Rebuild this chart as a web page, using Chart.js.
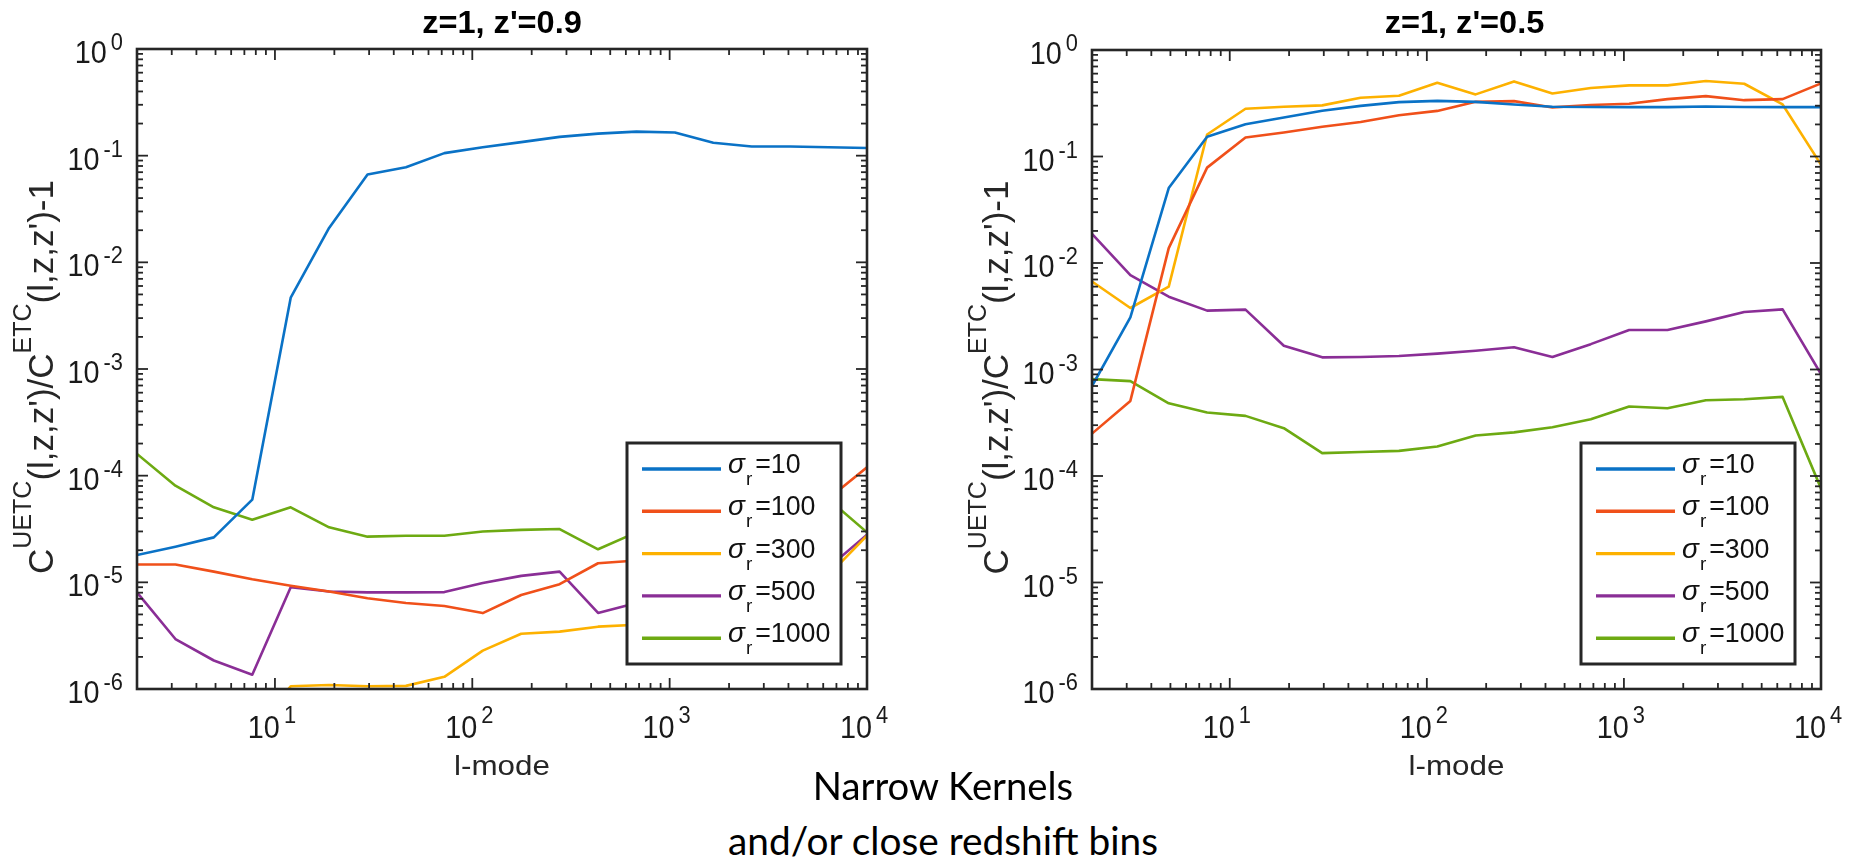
<!DOCTYPE html>
<html>
<head>
<meta charset="utf-8">
<title>UETC / ETC ratio</title>
<script src="https://cdn.jsdelivr.net/npm/chart.js@4.4.1/dist/chart.umd.min.js"></script>
<style>
  html, body { margin: 0; padding: 0; background: #fff; }
  #page { position: relative; width: 1865px; height: 864px; overflow: hidden; background: #fff; }
  #page canvas { position: absolute; top: 0; }
  #cL { left: 0; }
  #cR { left: 935px; }
  .cap {
    position: absolute; left: 943px; white-space: nowrap;
    font-family: Lato, "Open Sans", sans-serif; font-size: 39px; line-height: 1;
    color: #000; transform-origin: 50% 50%;
  }
  #cap1 { top: 766px; }
  #cap2 { top: 821px; }
</style>
</head>
<body>
<div id="page">
  <canvas id="cL" width="935" height="800"></canvas>
  <canvas id="cR" width="930" height="800"></canvas>
  <div class="cap" id="cap1">Narrow Kernels</div>
  <div class="cap" id="cap2">and/or close redshift bins</div>
</div>
<script>
// multipole values (l-mode), shared by both panels
const ells = [2, 3.131, 4.902, 7.675, 12.02, 18.81, 29.45, 46.11, 72.18, 113.0,
              176.9, 277.0, 433.7, 678.9, 1063, 1664, 2605, 4079, 6386, 10000];

// kernel widths
const sigmas = [10, 100, 300, 500, 1000];
const seriesColors = ['#0A72C6', '#F0501A', '#FDB100', '#8A2E96', '#6DAA12'];

// panel titles and axis decade exponents
const panelTitles = ["z=1, z'=0.9", "z=1, z'=0.5"];
const xTickExps = [1, 2, 3, 4];
const yTickExps = [-6, -5, -4, -3, -2, -1, 0];

// z=1, z'=0.9
const zp09_s10   = [1.8e-5, 2.16e-5, 2.64e-5, 5.96e-5, 4.66e-3, 0.0210, 0.0666, 0.078, 0.1057, 0.120,
                    0.134, 0.150, 0.161, 0.168, 0.165, 0.132, 0.122, 0.122, 0.120, 0.118];
const zp09_s100  = [1.47e-5, 1.47e-5, 1.26e-5, 1.07e-5, 9.3e-6, 8.2e-6, 7.1e-6, 6.4e-6, 6.0e-6, 5.15e-6,
                    7.6e-6, 9.6e-6, 1.51e-5, 1.6e-5, 1.8e-5, 2.2e-5, 2.9e-5, 4.0e-5, 6.1e-5, 1.2e-4];
const zp09_s300  = [3e-7, 3e-7, 3.5e-7, 4e-7, 1.06e-6, 1.09e-6, 1.06e-6, 1.07e-6, 1.3e-6, 2.29e-6,
                    3.3e-6, 3.45e-6, 3.84e-6, 4.0e-6, 4.6e-6, 5.5e-6, 7e-6, 9e-6, 1.17e-5, 2.74e-5];
const zp09_s500  = [8.05e-6, 2.94e-6, 1.85e-6, 1.36e-6, 8.98e-6, 8.2e-6, 8.05e-6, 8.05e-6, 8.1e-6, 9.85e-6,
                    1.15e-5, 1.26e-5, 5.16e-6, 6.4e-6, 7.5e-6, 8.5e-6, 1.0e-5, 1.15e-5, 1.38e-5, 2.8e-5];
const zp09_s1000 = [1.6e-4, 8.05e-5, 5.05e-5, 3.87e-5, 5.05e-5, 3.28e-5, 2.68e-5, 2.73e-5, 2.73e-5, 3.0e-5,
                    3.1e-5, 3.16e-5, 2.04e-5, 2.94e-5, 3.4e-5, 3.9e-5, 4.5e-5, 5.2e-5, 6.0e-5, 2.94e-5];

// z=1, z'=0.5
const zp05_s10   = [7.0e-4, 3.09e-3, 0.0506, 0.153, 0.201, 0.232, 0.269, 0.299, 0.324, 0.333,
                    0.326, 0.308, 0.293, 0.292, 0.291, 0.291, 0.295, 0.292, 0.291, 0.291];
const zp05_s100  = [2.5e-4, 5.07e-4, 0.0138, 0.0786, 0.151, 0.168, 0.190, 0.211, 0.244, 0.268,
                    0.326, 0.331, 0.289, 0.304, 0.313, 0.346, 0.369, 0.338, 0.346, 0.486];
const zp05_s300  = [6.7e-3, 3.78e-3, 6.0e-3, 0.161, 0.281, 0.293, 0.302, 0.356, 0.372, 0.493,
                    0.383, 0.507, 0.391, 0.439, 0.465, 0.465, 0.511, 0.482, 0.308, 0.0839];
const zp05_s500  = [0.0188, 7.7e-3, 4.83e-3, 3.57e-3, 3.65e-3, 1.67e-3, 1.30e-3, 1.31e-3, 1.34e-3, 1.41e-3,
                    1.50e-3, 1.62e-3, 1.31e-3, 1.73e-3, 2.35e-3, 2.35e-3, 2.83e-3, 3.47e-3, 3.67e-3, 9.04e-4];
const zp05_s1000 = [8.12e-4, 7.77e-4, 4.82e-4, 3.94e-4, 3.67e-4, 2.81e-4, 1.64e-4, 1.68e-4, 1.72e-4, 1.89e-4,
                    2.4e-4, 2.57e-4, 2.87e-4, 3.41e-4, 4.49e-4, 4.33e-4, 5.15e-4, 5.26e-4, 5.53e-4, 7.65e-5];

const FRAME = '#262626';
const SANS = '"Liberation Sans", Arial, Helvetica, sans-serif';

function seg(ctx, x1, y1, x2, y2) {
  ctx.beginPath(); ctx.moveTo(x1, y1); ctx.lineTo(x2, y2); ctx.stroke();
}

// "10" with a raised exponent; align 'center' or 'right' at x
function drawPow(ctx, x, yBase, expBase, e, align) {
  const mainF = '32px ' + SANS, expF = '23px ' + SANS;
  const sMain = 0.9, sExp = 0.95, gap = 4;
  ctx.font = mainF; const w1 = ctx.measureText('10').width * sMain;
  ctx.font = expF;  const w2 = ctx.measureText(String(e)).width * sExp;
  const total = w1 + gap + w2;
  const x0 = align === 'right' ? x - total : x - total / 2;
  ctx.save();
  ctx.textAlign = 'left'; ctx.textBaseline = 'alphabetic';
  ctx.save(); ctx.translate(x0, 0); ctx.scale(sMain, 1);
  ctx.font = mainF; ctx.fillText('10', 0, yBase);
  ctx.restore();
  ctx.save(); ctx.translate(x0 + w1 + gap, 0); ctx.scale(sExp, 1);
  ctx.font = expF; ctx.fillText(String(e), 0, expBase);
  ctx.restore();
  ctx.restore();
}

const figurePlugin = {
  id: 'mfig',
  afterDatasetsDraw(chart, args, opts) {
    const { ctx, chartArea: a, scales: { x, y } } = chart;
    ctx.save();

    // legend box, lower right inside the axes
    const bw = 214, bh = 221;
    const bx = a.right - 26 - bw, by = a.bottom - 25 - bh;
    ctx.fillStyle = '#fff';
    ctx.fillRect(bx, by, bw, bh);
    ctx.lineWidth = 3; ctx.strokeStyle = FRAME;
    ctx.strokeRect(bx, by, bw, bh);
    chart.data.datasets.forEach((ds, i) => {
      const ly = by + 26 + i * 42.3;
      ctx.strokeStyle = ds.borderColor; ctx.lineWidth = 3.4; ctx.lineCap = 'butt';
      seg(ctx, bx + 15, ly, bx + 94, ly);
      ctx.fillStyle = '#111';
      ctx.textAlign = 'left'; ctx.textBaseline = 'alphabetic';
      let tx = bx + 101;
      ctx.font = 'italic 28px ' + SANS;
      ctx.fillText('σ', tx, ly + 4);
      tx += ctx.measureText('σ').width + 1;
      ctx.font = '19px ' + SANS;
      ctx.fillText('r', tx, ly + 16);
      tx += ctx.measureText('r').width + 3;
      ctx.save(); ctx.translate(tx, 0); ctx.scale(0.99, 1);
      ctx.font = '27px ' + SANS;
      ctx.fillText('=' + ds.sigma, 0, ly + 4);
      ctx.restore();
    });

    // box and inward ticks on all four sides
    ctx.strokeStyle = FRAME; ctx.lineWidth = 1.8; ctx.lineCap = 'butt';
    for (let n = 0; n <= 4; n++) {
      for (let m = 1; m <= 9; m++) {
        const v = m * Math.pow(10, n);
        if (v < x.min - 1e-9 || v > x.max + 1e-9) continue;
        const px = x.getPixelForValue(v), len = m === 1 ? 11 : 6;
        seg(ctx, px, a.bottom, px, a.bottom - len);
        seg(ctx, px, a.top, px, a.top + len);
      }
    }
    for (let n = -6; n <= 0; n++) {
      for (let m = 1; m <= 9; m++) {
        const v = m * Math.pow(10, n);
        if (v < y.min * 0.999 || v > y.max * 1.001) continue;
        const py = y.getPixelForValue(v), len = m === 1 ? 11 : 6;
        seg(ctx, a.left, py, a.left + len, py);
        seg(ctx, a.right, py, a.right - len, py);
      }
    }
    ctx.lineWidth = 2.6;
    ctx.strokeRect(a.left, a.top, a.right - a.left, a.bottom - a.top);

    // tick labels
    ctx.fillStyle = '#1a1a1a';
    xTickExps.forEach(e => {
      const px = x.getPixelForValue(Math.pow(10, e));
      drawPow(ctx, px - 3, a.bottom + 49, a.bottom + 34, e, 'center');
    });
    yTickExps.forEach(e => {
      const py = y.getPixelForValue(Math.pow(10, e));
      drawPow(ctx, a.left - 14, py + 14, py + 1, e, 'right');
    });

    // title
    const cx = (a.left + a.right) / 2;
    ctx.save();
    ctx.translate(cx + opts.titleShift, 0); ctx.scale(1.05, 1);
    ctx.fillStyle = '#000'; ctx.textAlign = 'center';
    ctx.font = 'bold 31px ' + SANS;
    ctx.fillText(opts.title, 0, 33);
    ctx.restore();

    // x label
    ctx.save();
    ctx.translate(cx, 0); ctx.scale(1.12, 1);
    ctx.fillStyle = '#262626'; ctx.textAlign = 'center';
    ctx.font = '28px ' + SANS;
    ctx.fillText('l-mode', 0, 775);
    ctx.restore();

    // y label with superscripts, rotated
    const parts = [['C', 0], ['UETC', 1], ["(l,z,z')/C", 0], ['ETC', 1], ["(l,z,z')-1", 0]];
    const mF = '35px ' + SANS, sF = '25px ' + SANS;
    let total = 0;
    parts.forEach(p => { ctx.font = p[1] ? sF : mF; p.push(ctx.measureText(p[0]).width); total += p[2]; });
    ctx.save();
    ctx.translate(a.left - 84, (a.top + a.bottom) / 2 + 8);
    ctx.rotate(-Math.PI / 2);
    ctx.fillStyle = '#262626'; ctx.textAlign = 'left';
    let xx = -total / 2;
    parts.forEach(p => {
      ctx.font = p[1] ? sF : mF;
      ctx.fillText(p[0], xx, p[1] ? -22 : 0);
      xx += p[2];
    });
    ctx.restore();

    ctx.restore();
  }
};

function makePanel(canvasId, title, seriesList, pad, titleShift) {
  const datasets = seriesList.map((vals, i) => ({
    label: 'σr=' + sigmas[i],
    sigma: sigmas[i],
    data: ells.map((l, k) => ({ x: l, y: vals[k] })),
    borderColor: seriesColors[i],
    backgroundColor: seriesColors[i],
    borderWidth: 2.6,
    pointRadius: 0,
    tension: 0,
    fill: false,
    borderJoinStyle: 'round'
  }));
  return new Chart(document.getElementById(canvasId), {
    type: 'line',
    data: { datasets },
    options: {
      responsive: false,
      animation: false,
      devicePixelRatio: 1,
      layout: { padding: pad },
      plugins: {
        legend: { display: false },
        title: { display: false },
        tooltip: { enabled: false },
        mfig: { title, titleShift }
      },
      scales: {
        x: { type: 'logarithmic', min: 2, max: 10000, display: false },
        y: { type: 'logarithmic', min: 1e-6, max: 1, display: false }
      }
    },
    plugins: [figurePlugin]
  });
}

makePanel('cL', panelTitles[0],
  [zp09_s10, zp09_s100, zp09_s300, zp09_s500, zp09_s1000],
  { left: 137, top: 49, right: 68, bottom: 111 }, 0);
makePanel('cR', panelTitles[1],
  [zp05_s10, zp05_s100, zp05_s300, zp05_s500, zp05_s1000],
  { left: 157, top: 50, right: 44, bottom: 111 }, 8);

// caption lines, narrowed to their set widths
[['cap1', 260], ['cap2', 430]].forEach(([id, w]) => {
  const el = document.getElementById(id);
  const s = w / el.offsetWidth;
  el.style.transform = 'translateX(-50%) scaleX(' + s.toFixed(3) + ')';
});
</script>
</body>
</html>
